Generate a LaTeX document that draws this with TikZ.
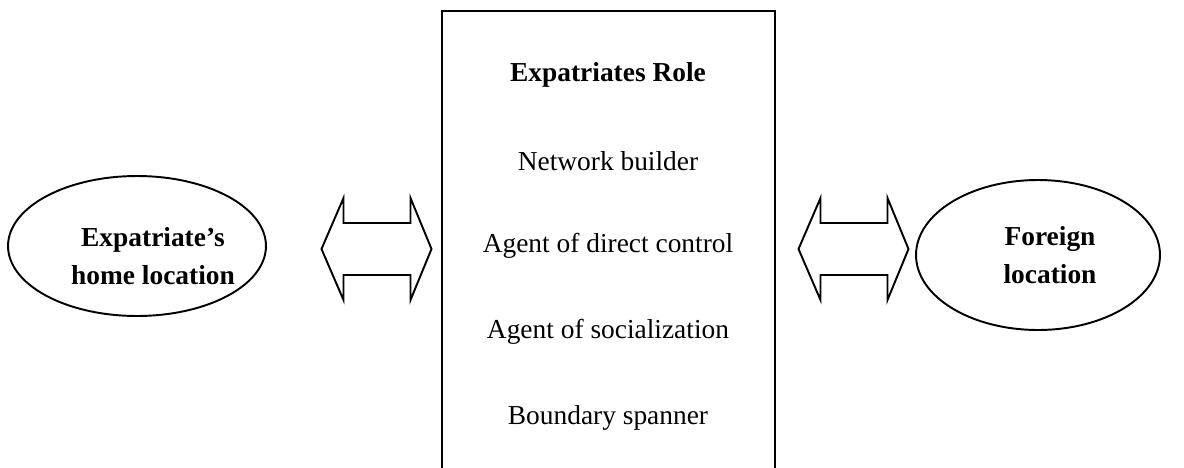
\documentclass[tikz,border=0pt]{standalone}
\usepackage{fontspec}
\setmainfont{Liberation Serif}
\usetikzlibrary{positioning, shapes.geometric}

\begin{document}
\begin{tikzpicture}[x=0.02cm, y=-0.02cm, line width=1.1pt,
        place/.style={ellipse, draw, inner sep=0pt},
        placename/.style={align=center, font=\fontsize{15.6}{22}\selectfont\bfseries},
        role/.style={font=\fontsize{15.6}{19}\selectfont},
        blockarrow/.style={draw, line join=miter}]
    \useasboundingbox (0,0) rectangle (1184,467);

    %Caixa central (aberta embaixo)
    \draw (442,520) -- (442,11) -- (775,11) -- (775,520);
    \node[role, font=\fontsize{15.6}{19}\selectfont\bfseries] (title) at (608,75) {Expatriates Role};
    \node[role] (net)   at (608,161) {Network builder};
    \node[role] (ctrl)  at (608,246) {Agent of direct control};
    \node[role] (soc)   at (608,332) {Agent of socialization};
    \node[role] (span)  at (608,418) {Boundary spanner};

    %Locais
    \node[place, minimum width=5.16cm, minimum height=2.8cm] (home) at (137,246) {};
    \node[placename] (homename) at (153,256) {Expatriate's\\home location};
    \node[place, minimum width=4.88cm, minimum height=3cm] (foreign) at (1038,255) {};
    \node[placename] (foreignname) at (1050,255) {Foreign\\location};

    %Setas duplas
    \coordinate (larr) at (376.5,249);
    \coordinate (rarr) at (853.5,249);
    \foreach \c in {larr, rarr}
        \draw[blockarrow, shift={(\c)}] (-55,0) -- (-33,-51) -- (-33,-26) -- (34,-26) -- (34,-51)
            -- (55,0) -- (34,51) -- (34,26) -- (-33,26) -- (-33,51) -- cycle;
\end{tikzpicture}
\end{document}
